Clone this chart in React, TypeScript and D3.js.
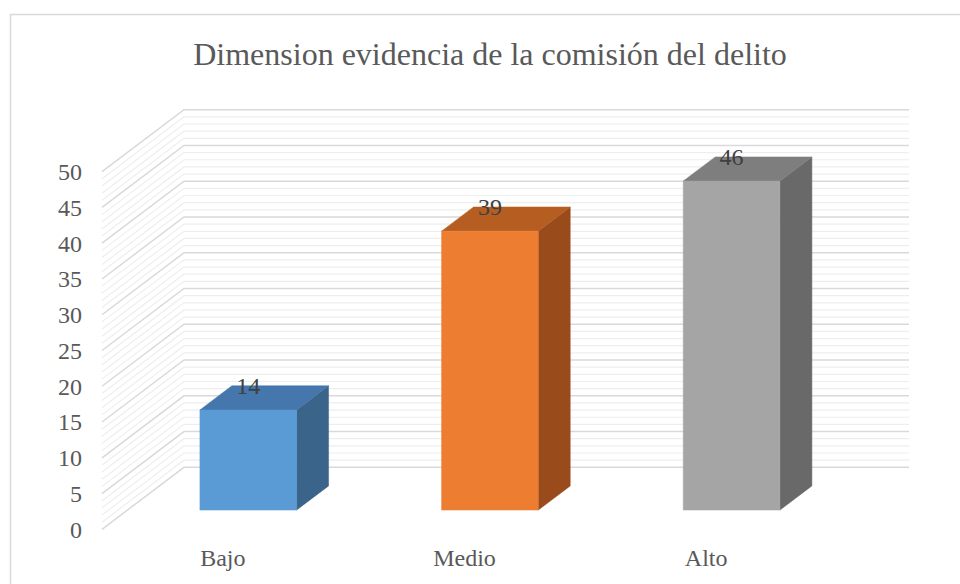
import React, { useEffect, useRef } from 'react';
import * as d3 from 'd3';

const title = 'Dimension evidencia de la comisión del delito';
const categories = ['Bajo', 'Medio', 'Alto'];
const values = [14, 39, 46];
const yTicks = [0, 5, 10, 15, 20, 25, 30, 35, 40, 45, 50];
const minorStep = 1;
const frontColors = ['#5B9BD5', '#ED7D31', '#A5A5A5'];
const topColors = ['#4576AC', '#B65E22', '#7E7E7E'];
const sideColors = ['#3A6489', '#9A4B1C', '#696969'];

const App: React.FC = () => {
  const svgRef = useRef<SVGSVGElement | null>(null);

  useEffect(() => {
    if (!svgRef.current) return;
    const svg = d3.select(svgRef.current);
    svg.selectAll('*').remove();

    const font = '"Liberation Serif", "Times New Roman", serif';
    // oblique depth of the 3D box
    const depthX = 82;
    const depthY = 62;
    const left = 102;
    const right = 827;

    const x = d3
      .scaleBand<string>()
      .domain(categories)
      .range([left, right])
      .paddingInner(0.6)
      .paddingOuter(0.3);
    const y = d3.scaleLinear().domain([0, 50]).range([529.3, 171.7]);

    const proj = (xf: number, v: number, d: number): [number, number] => [
      xf + d * depthX,
      y(v) - d * depthY,
    ];

    // chart border
    svg
      .append('rect')
      .attr('x', 10.5)
      .attr('y', 14.5)
      .attr('width', 980)
      .attr('height', 600)
      .attr('fill', '#fff')
      .attr('stroke', '#d9d9d9')
      .attr('stroke-width', 1.5);

    svg
      .append('text')
      .attr('x', 490)
      .attr('y', 65)
      .attr('text-anchor', 'middle')
      .attr('font-family', font)
      .attr('font-size', 32)
      .attr('fill', '#595959')
      .text(title);

    // gridlines on back and side walls
    const allTicks = d3.range(0, 50 + minorStep, minorStep);
    const grid = svg.append('g').attr('fill', 'none');
    const drawGrid = (list: number[], color: string, width: number) => {
      list.forEach((v) => {
        const a = proj(left, v, 0);
        const b = proj(left, v, 1);
        const c = proj(right, v, 1);
        grid
          .append('path')
          .attr('d', d3.line()([a, b, c]) || '')
          .attr('stroke', color)
          .attr('stroke-width', width);
      });
    };
    drawGrid(allTicks.filter((v) => v % 5 !== 0), '#eeeeee', 1.2);
    drawGrid(yTicks, '#d9d9d9', 1.5);

    // bars
    const d0 = 0.31;
    const d1 = 0.7;
    const w = x.bandwidth();
    const bars = svg.append('g');
    categories.forEach((cat, i) => {
      const xs = x(cat) || 0;
      const v = values[i];
      const poly = (pts: [number, number][], fill: string) =>
        bars
          .append('path')
          .attr('d', (d3.line()(pts) || '') + 'Z')
          .attr('fill', fill)
          .attr('stroke', fill)
          .attr('stroke-width', 0.5);
      poly(
        [proj(xs + w, 0, d0), proj(xs + w, 0, d1), proj(xs + w, v, d1), proj(xs + w, v, d0)],
        sideColors[i]
      );
      poly(
        [proj(xs, v, d0), proj(xs + w, v, d0), proj(xs + w, v, d1), proj(xs, v, d1)],
        topColors[i]
      );
      poly(
        [proj(xs, 0, d0), proj(xs + w, 0, d0), proj(xs + w, v, d0), proj(xs, v, d0)],
        frontColors[i]
      );

      const top = proj(xs + w / 2, v, d0);
      svg
        .append('text')
        .attr('x', top[0])
        .attr('y', top[1] - 16)
        .attr('text-anchor', 'middle')
        .attr('font-family', font)
        .attr('font-size', 24)
        .attr('fill', '#404040')
        .text(v);
    });

    // value axis labels
    svg
      .append('g')
      .selectAll('text')
      .data(yTicks)
      .enter()
      .append('text')
      .attr('x', left - 20)
      .attr('y', (d) => y(d))
      .attr('dy', '0.35em')
      .attr('text-anchor', 'end')
      .attr('font-family', font)
      .attr('font-size', 24)
      .attr('fill', '#595959')
      .text((d) => d);

    // category labels
    svg
      .append('g')
      .selectAll('text')
      .data(categories)
      .enter()
      .append('text')
      .attr('x', (d) => (x(d) || 0) + w / 2)
      .attr('y', 566)
      .attr('text-anchor', 'middle')
      .attr('font-family', font)
      .attr('font-size', 24)
      .attr('fill', '#595959')
      .text((d) => d);
  }, []);

  return (
    <svg
      ref={svgRef}
      width={960}
      height={584}
      style={{ position: 'absolute', left: 0, top: 0, background: '#fff' }}
    />
  );
};

export default App;
